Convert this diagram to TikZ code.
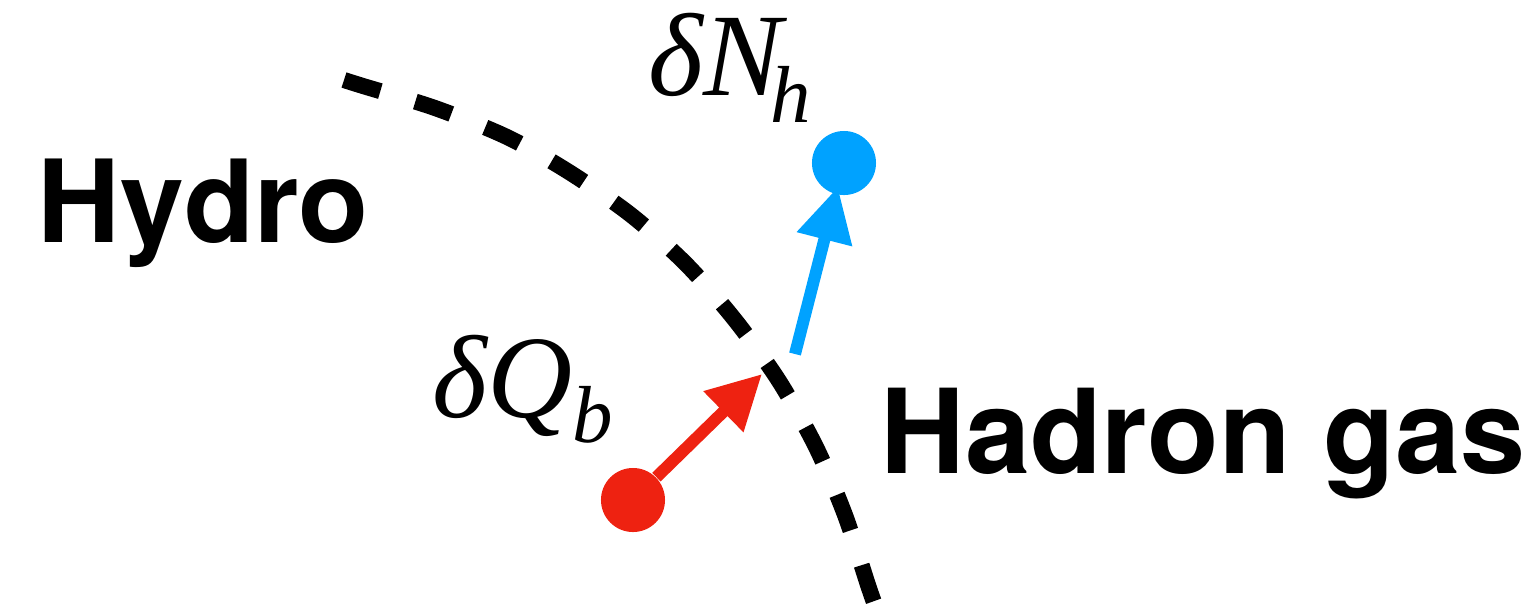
\documentclass[tikz,border=0pt]{standalone}
\usepackage{fontspec}
\usetikzlibrary{arrows.meta}
\newfontfamily\heros{TeX Gyre Heros}
\newfontfamily\tms{Liberation Serif}
\definecolor{hblue}{RGB}{0,162,255}
\definecolor{hred}{RGB}{238,34,17}
\begin{document}
\begin{tikzpicture}[x=0.01cm,y=-0.01cm,
  region/.style={font=\heros\bfseries\fontsize{32.6pt}{36pt}\selectfont, inner sep=0pt, anchor=base west},
  qty/.style={font=\tms\itshape\fontsize{33.5pt}{38pt}\selectfont, inner sep=0pt, anchor=base west},
  ptdot/.style={circle, inner sep=0pt, minimum size=0.64cm, fill=#1},
  vec/.style={draw=#1, line width=0.12cm, -{Triangle[length=0.54cm,width=0.54cm]}},
  boundary/.style={line width=0.16cm, dash pattern=on 0.38cm off 0.365cm}]
\useasboundingbox (0,0) rectangle (1538,611);
\draw[boundary] plot[smooth] coordinates {(344,80) (363,86) (435,108) (507,137) (569,172) (631,215) (686,264) (735,320) (779,381) (816,447) (845,515) (868,585) (875,605)};
\node[region] (hydro) at (37,242) {Hydro};
\node[region, font=\heros\bfseries\fontsize{33.3pt}{37pt}\selectfont] (hadron) at (880,473) {Hadron gas};
\node[ptdot=hblue] (bdot) at (844,163) {};
\node[ptdot=hred] (rdot) at (633,500) {};
\coordinate (bstart) at (795,354);
\coordinate (rtip) at (762,374);
\draw[vec=hred] (rdot) -- (rtip);
\draw[vec=hblue, shorten >=-0.08cm] (bstart) -- (bdot);
\node[qty] (dN) at (648,95) {δN\kern-0.1em\raisebox{-0.23em}{\fontsize{23pt}{26pt}\selectfont h}};
\node[qty] (dQ) at (432,417) {δQ\raisebox{-0.22em}{\fontsize{23pt}{26pt}\selectfont b}};
\end{tikzpicture}
\end{document}
